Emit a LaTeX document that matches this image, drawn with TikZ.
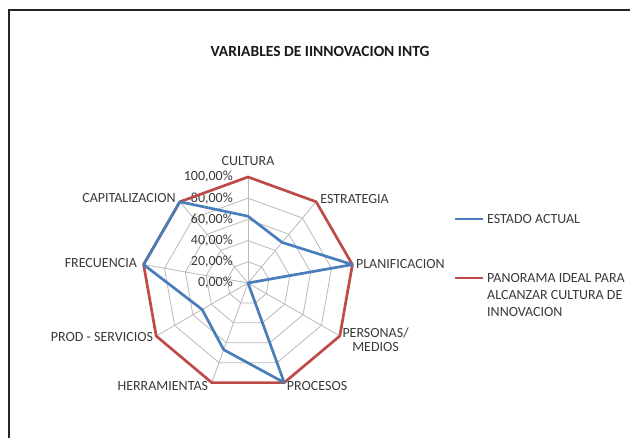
\documentclass[tikz,border=0pt]{standalone}
\usepackage{fontspec}
\setmainfont{Carlito}
\usetikzlibrary{positioning}
\definecolor{actualblue}{HTML}{4A7EBB}
\definecolor{idealred}{HTML}{BE4B48}
\definecolor{labelgray}{HTML}{3A3A3A}

\begin{document}
\begin{tikzpicture}
  [x=1pt, y=1pt,
  gridline/.style={draw=gray!55, line width=0.8pt},
  actual/.style={draw=actualblue, line width=2.7pt, line join=round},
  ideal/.style={draw=idealred, line width=2.7pt, line join=round},
  category/.style={text=labelgray, inner sep=0pt,
    font=\fontsize{14}{13.5}\selectfont},
  percent/.style={category, anchor=east},
  legend/.style={category, anchor=base west, align=left,
    font=\fontsize{14}{17}\selectfont}]

  \useasboundingbox (0,0) rectangle (630,438);
  \clip (0,0) rectangle (630,438);
  \draw[line width=2.6pt, black!85] (9,428) rectangle (660,-20);

  \node[font=\bfseries\fontsize{15.5}{18}\selectfont, text=black!90] (title) at (320,387) {VARIABLES DE IINNOVACION INTG};

  \coordinate (center) at (248,155);
  \foreach \name [count=\i from 0] in {cultura,estrategia,planificacion,personas,procesos,herramientas,prodserv,frecuencia,capital}
    \coordinate (\name) at ([shift={(90-40*\i:106)}]center);

  % grid
  \foreach \k in {1,...,5}
    \draw[gridline, shift={(center)}] (90:21.2*\k) \foreach \a in {50,10,...,-230} { -- (\a:21.2*\k) } -- cycle;
  \foreach \name in {cultura,estrategia,planificacion,personas,procesos,herramientas,prodserv,frecuencia,capital}
    \draw[gridline] (center) -- (\name);

  \foreach \k in {0,...,5}
    \node[percent] (pct\k) at ([shift={(-15,21.2*\k)}]center) {\the\numexpr20*\k\relax,00\%};

  % series
  \draw[ideal] (cultura) -- (estrategia) -- (planificacion) -- (personas) -- (procesos)
    -- (herramientas) -- (prodserv) -- (frecuencia) -- (capital) -- cycle;
  \draw[actual, shift={(center)}] (90:0.63*106) -- (50:0.5*106) -- (10:106) -- (0,0) -- (-70:106)
    -- (-110:0.67*106) -- (-150:0.5*106) -- (170:106) -- (130:106) -- cycle;

  \node[category, anchor=south] (l-cultura) at ([yshift=11]cultura) {CULTURA};
  \node[category, anchor=west] (l-estrategia) at ([shift={(4,3)}]estrategia) {ESTRATEGIA};
  \node[category, anchor=west] (l-planificacion) at ([shift={(3.5,0.5)}]planificacion) {PLANIFICACION};
  \node[category, anchor=west, align=center] (l-personas) at ([shift={(2.5,-3.5)}]personas) {PERSONAS/\\MEDIOS};
  \node[category, anchor=west] (l-procesos) at ([shift={(2.5,-3.5)}]procesos) {PROCESOS};
  \node[category, anchor=east] (l-herramientas) at ([shift={(-3.5,-3.5)}]herramientas) {HERRAMIENTAS};
  \node[category, anchor=east] (l-prodserv) at ([shift={(-3,-1)}]prodserv) {PROD - SERVICIOS};
  \node[category, anchor=east] (l-frecuencia) at ([shift={(-6.5,1.5)}]frecuencia) {FRECUENCIA};
  \node[category, anchor=east] (l-capital) at ([shift={(-4,4)}]capital) {CAPITALIZACION};

  % legend
  \node[legend] (leg-actual) at (487,214.5) {ESTADO ACTUAL};
  \node[legend] (leg-ideal) at (487,121) {PANORAMA IDEAL PARA\\ALCANZAR CULTURA DE\\INNOVACION};
  \draw[actual] (455,219) -- (483,219);
  \draw[ideal] (455,160) -- (483,160);

\end{tikzpicture}
\end{document}
